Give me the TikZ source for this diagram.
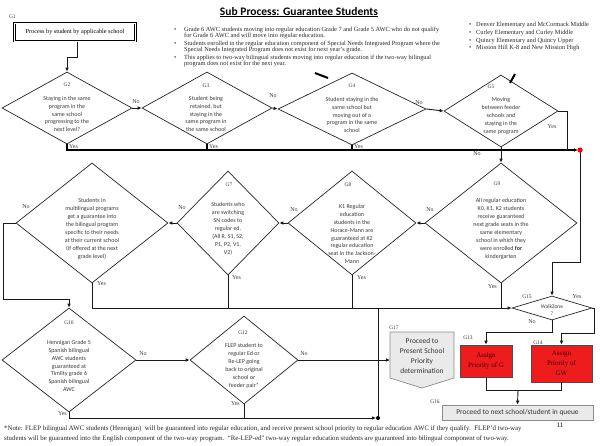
\documentclass[tikz,border=0pt]{standalone}
\usepackage{fontspec}
\setmainfont{Liberation Serif}
\newfontfamily\calib{Carlito}
\usetikzlibrary{shapes.geometric,arrows.meta}
\definecolor{txtgray}{HTML}{3A3A3A}
\definecolor{boxred}{HTML}{EE1C1C}
\definecolor{shgray}{HTML}{EAEAEA}
\begin{document}
\begin{tikzpicture}[x=1pt,y=-1pt,
  dia/.style={diamond, draw=black!85, line width=0.7pt, inner sep=0pt},
  dtxt/.style={align=center, inner sep=0pt, text=txtgray, font=\calib\fontsize{6}{7.9}\selectfont},
  glab/.style={inner sep=0pt, text=txtgray, font=\fontsize{5.5}{6}\selectfont},
  yn/.style={inner sep=0pt, text=txtgray, font=\fontsize{6}{6}\selectfont},
  conn/.style={draw=black!90, line width=0.9pt},
  bus/.style={draw=black, line width=1.3pt},
  arr/.style={-{Latex[length=4pt,width=3.6pt]}},
  btxt/.style={inner sep=0pt, anchor=base west, text=black!85, font=\fontsize{6.3}{7}\selectfont},
  redbox/.style={draw=black!70, fill=boxred, line width=0.6pt, inner sep=0pt, align=center, text=black!75!red, font=\fontsize{7}{10}\selectfont},
  greybox/.style={draw=black!45, fill=shgray, line width=0.7pt, inner sep=0pt, align=center, text=black!80, font=\calib\fontsize{7.4}{9.7}\selectfont},
  straymark/.style={line width=2pt, black}
]
\useasboundingbox (0,0) rectangle (600,445);
\fill[white] (0,0) rectangle (600,445);

% title
\node[inner sep=0pt, font=\calib\bfseries\fontsize{11.5}{12}\selectfont, anchor=base] (title) at (299,15) {\underline{Sub Process: Guarantee Students}};

% bullet block (middle)
\node[btxt] (bb1) at (174,31) {•};
\node[btxt] (bt1a) at (184,31) {Grade 6 AWC students moving into regular education Grade 7 and Grade 5 AWC who do not qualify};
\node[btxt] (bt1b) at (184,37) {for Grade 6 AWC and will move into regular education.};
\node[btxt] (bb2) at (174,45) {•};
\node[btxt] (bt2a) at (184,45) {Students enrolled in the regular education component of Special Needs Integrated Program where the};
\node[btxt] (bt2b) at (184,51) {Special Needs Integrated Program does not exist for next year’s grade.};
\node[btxt] (bb3) at (174,59) {•};
\node[btxt] (bt3a) at (184,59) {This applies to two-way bilingual students moving into regular education if the two-way bilingual};
\node[btxt] (bt3b) at (184,65.5) {program does not exist for the next year.};

% bullet block (right)
\node[btxt] (rb1) at (469,26) {•};
\node[btxt] (rt1) at (476,26) {Denver Elementary and McCormack Middle};
\node[btxt] (rb2) at (469,34) {•};
\node[btxt] (rt2) at (476,34) {Curley Elementary and Curley Middle};
\node[btxt] (rb3) at (469,42) {•};
\node[btxt] (rt3) at (476,42) {Quincy Elementary and Quincy Upper};
\node[btxt] (rb4) at (469,49) {•};
\node[btxt] (rt4) at (476,49) {Mission Hill K-8 and New Mission High};

% G1
\node[glab, anchor=base west] (g1l) at (9,18) {G1};
\node[draw, line width=1.1pt, double=white, double distance=0.5pt, minimum width=121pt, minimum height=18pt, inner sep=0pt, font=\fontsize{6.2}{6}\selectfont] (g1) at (75,32) {Process by student by applicable school};

% row 1 diamonds
\node[dia, minimum width=130pt, minimum height=72pt] (g2) at (67,108) {};
\node[dia, minimum width=130pt, minimum height=72pt] (g3) at (207,108) {};
\node[dia, minimum width=148pt, minimum height=72pt] (g4) at (352,109) {};
\node[dia, minimum width=114pt, minimum height=72pt] (g5) at (501,111) {};

\node[glab] (g2l) at (67,85) {G2};
\node[glab] (g3l) at (206,86) {G3};
\node[glab] (g4l) at (352,86) {G4};
\node[glab] (g5l) at (491,87) {G5};

\node[dtxt] (g2t) at (67,114) {Staying in the same\\program in the\\same school\\progressing to the\\next level?};
\node[dtxt] (g3t) at (206,114) {Student being\\retained, but\\staying in the\\same program in\\the same school};
\node[dtxt] (g4t) at (352,115) {Student staying in the\\same school but\\moving out of a\\program in the same\\school};
\node[dtxt] (g5t) at (501,116) {Moving\\between feeder\\schools and\\staying in the\\same program};

% row 2 diamonds
\node[dia, minimum width=152pt, minimum height=120pt] (g6) at (92,223) {};
\node[dia, minimum width=102pt, minimum height=104pt] (g7) at (228,223) {};
\node[dia, minimum width=128pt, minimum height=104pt] (g8) at (352,223) {};
\node[dia, minimum width=152pt, minimum height=120pt] (g9) at (501,223) {};

\node[glab] (g7l) at (229,185) {G7};
\node[glab] (g8l) at (348,185) {G8};
\node[glab] (g9l) at (497,184) {G9};

\node[dtxt] (g6t) at (92,229) {Students in\\multilingual programs\\get a guarantee into\\the bilingual program\\specific to their needs\\at their current school\\(if offered at the next\\grade level)};
\node[dtxt] (g7t) at (228,229) {Students who\\are switching\\SN codes to\\regular ed.\\(All R, S1, S2,\\P1, P2, V1,\\V2)};
\node[dtxt] (g8t) at (352,234) {K1 Regular\\education\\students in the\\Horace-Mann are\\guaranteed at K2\\regular education\\seat in the Jackson-\\Mann};
\node[dtxt] (g9t) at (501,229) {All regular education\\K0, K1, K2 students\\receive guaranteed\\next grade seats in the\\same elementary\\school in which they\\were enrolled \textbf{for}\\kindergarten};

% row 3 diamonds
\node[dia, minimum width=134pt, minimum height=104pt] (g10) at (69,360) {};
\node[dia, minimum width=108pt, minimum height=88pt] (g12) at (244,360) {};
\node[dia, minimum width=80pt, minimum height=24pt] (g15) at (552,308) {};

\node[glab] (g10l) at (69,323) {G10};
\node[glab] (g12l) at (243,333) {G12};
\node[glab] (g15l) at (527,297) {G15};

\node[dtxt] (g10t) at (69,366) {Hennigan Grade 5\\Spanish bilingual\\AWC students\\guaranteed at\\Timilty grade 6\\Spanish bilingual\\AWC};
\node[dtxt] (g12t) at (244,366) {FLEP student to\\regular Ed or\\Re-LEP going\\back to original\\school or\\feeder pair*};
\node[dtxt, font=\calib\fontsize{5.5}{6.5}\selectfont] (g15t) at (552,310) {WalkZone\\?};

% G17 off-page shape
\draw[draw=black!45, fill=shgray, line width=0.7pt] (390,332) -- (454,332) -- (454,378) -- (422,388) -- (390,378) -- cycle;
\node[greybox, draw=none, fill=none] (g17) at (422,356) {Proceed to\\Present School\\Priority\\determination};
\coordinate (g17w) at (390,360);
\node[glab] (g17l) at (394,328) {G17};

% G13 / G14
\node[redbox, minimum width=52pt, minimum height=32pt] (g13) at (486,361) {Assign\\Priority of G};
\node[redbox, minimum width=61pt, minimum height=37pt] (g14) at (561.5,363.5) {Assign\\Priority of\\GW};
\node[glab] (g13l) at (468,338) {G13};
\node[glab] (g14l) at (538,343) {G14};

% G16
\node[greybox, minimum width=151pt, minimum height=15pt] (g16) at (517.5,412.5) {Proceed to next school/student in queue};
\node[glab] (g16l) at (435,402) {G16};

% connectors row 1
\coordinate (g1a) at (77,57);
\draw[conn,arr] (g1.south -| g1a) -- (g1a) -| (g2.north);
\draw[conn,arr] (g2.east) -- (g3.west);
\draw[conn,arr] (g3.east) -- (g4.west);
\draw[conn,arr] (g4.east) -- (g5.west);
\node[yn] (n23) at (136,102) {No};
\node[yn] (n34) at (273,96) {No};
\node[yn] (n45) at (419,103) {No};

\coordinate (redd) at (580,150);
\draw[bus,arr,shorten >=2pt] (g2.south) |- (redd);
\draw[bus] (g3.south) -- (g3.south |- redd);
\draw[bus] (g4.south) -- (g4.south |- redd);
\coordinate (g5y) at (567,150);
\draw[conn] (g5.east) -| (g5y);
\node[yn, anchor=west] (y2) at (69,147) {Yes};
\node[yn, anchor=west] (y3) at (209,147) {Yes};
\node[yn, anchor=west] (y4) at (354,147) {Yes};
\node[yn] (y5) at (552,127) {Yes};

\draw[conn,arr] (g5.south) -- (g9.north);
\node[yn] (n59) at (477,154) {No};

\coordinate (rd2) at (580,262);
\draw[conn,arr] (redd) -- (rd2) -| (g15.north);
\fill[red] (redd) circle (2.6pt);

% connectors row 2
\draw[conn,arr] (g9.west) -- (g8.east);
\draw[conn,arr] (g8.west) -- (g7.east);
\draw[conn,arr] (g7.west) -- (g6.east);
\node[yn] (n98) at (430,210) {No};
\node[yn] (n87) at (294,210) {No};
\node[yn] (n76) at (182,208) {No};
\node[yn] (n6) at (26,207) {No};

\coordinate (g6a) at (3,299);
\draw[conn,arr] (g6.west) -| (g6a) -| (g10.north);

\draw[conn,arr] (g6.south) |- (g15.west);
\draw[conn] (g7.south) -- (g7.south |- g15.west);
\draw[conn] (g8.south) -- (g8.south |- g15.west);
\draw[conn] (g9.south) -- (g9.south |- g15.west);
\node[yn, anchor=west] (y6) at (97,284) {Yes};
\node[yn, anchor=west] (y7) at (232,278) {Yes};
\node[yn, anchor=west] (y8) at (357,278) {Yes};
\node[yn, anchor=east] (y9) at (497,287) {Yes};

% connectors row 3
\draw[conn,arr] (g10.east) -- (g12.west);
\node[yn] (n1012) at (143,354) {No};
\draw[conn,arr] (g12.east) -- (g17w);
\node[yn] (n1217) at (304,354) {No};

\coordinate (bdot) at (378,418);
\draw[conn,arr,shorten >=2pt] (g10.south) |- (bdot);
\draw[conn] (g12.south) -- (g12.south |- bdot);
\draw[conn] (bdot) -- (bdot |- g15.west);
\fill[black] (bdot) circle (2pt);
\node[yn, anchor=east] (y10) at (67,414) {Yes};
\node[yn, anchor=east] (y12) at (240,404) {Yes};

% G15 branches
\coordinate (g15n) at (552,332);
\draw[conn,arr] (g15.south) -- (g15n) -| (g13.north);
\coordinate (g15y) at (594,333);
\draw[conn,arr] (g15.east) -| (g15y) -| (g14.north);
\node[yn] (n15) at (532,322) {No};
\node[yn] (y15) at (577,297) {Yes};

\coordinate (mrg) at (518,390);
\draw[conn] (g13.south) |- (mrg);
\draw[conn] (g14.south) |- (mrg);
\draw[conn,arr] (mrg) -- (g16.north);

% stray marks
\draw[straymark] (315,73) -- (328,78);
\draw[straymark] (510,83) -- (515,74);

% footnote
\node[btxt, font=\fontsize{6.85}{7}\selectfont] (f1) at (4,430) {*Note: FLEP bilingual AWC students (Hennigan)\ \ will be guaranteed into regular education, and receive present school priority to regular education AWC if they qualify.\ \ FLEP’d two-way};
\node[btxt, font=\fontsize{6.8}{7}\selectfont] (f2) at (4,440) {students will be guaranteed into the English component of the two-way program.\ \ “Re-LEP-ed” two-way regular education students are guaranteed into bilingual component of two-way.};
\node[inner sep=0pt, font=\fontsize{7}{7}\selectfont] (pg) at (560,425) {11};
\end{tikzpicture}
\end{document}
